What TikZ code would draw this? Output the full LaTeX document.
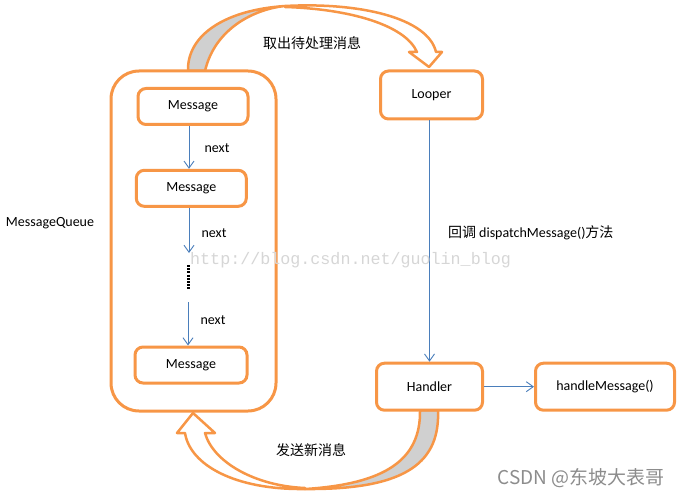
\documentclass[tikz,border=0pt]{standalone}
\usepackage{fontspec}
\setmainfont{Carlito}
\newfontfamily\cjk{Noto Sans CJK SC}
\newfontfamily\wmfont{Liberation Mono}
\usepackage{tikz}
\usetikzlibrary{arrows.meta}
\definecolor{boxorange}{HTML}{F79646}
\definecolor{linkblue}{HTML}{4A7EBB}
\definecolor{backgray}{HTML}{D0D0D0}

\begin{document}
\begin{tikzpicture}[x=1pt,y=-1pt,
  every node/.style={font=\fontsize{14}{16}\selectfont},
  box/.style={draw=boxorange,line width=3pt,rounded corners=8pt,fill=white,
    minimum height=36pt,inner sep=0pt},
  link/.style={draw=linkblue,line width=0.9pt,-{Straight Barb[length=7pt,width=10pt]}},
  curvearrow/.style={draw=boxorange,line width=2.5pt,line join=round}]
\useasboundingbox (0,0) rectangle (682,497);
% curved arrow on top
\filldraw[curvearrow,fill=backgray] (188,71) .. controls (187,35) and (225,10) .. (285,6)
  .. controls (255,9) and (215,28) .. (205,71) -- cycle;
\filldraw[curvearrow,fill=white] (285,6) .. controls (360,2) and (428,18) .. (436,52)
  -- (442,52) -- (429,67) -- (409,52) -- (417,52)
  .. controls (405,25) and (350,9) .. (285,7) -- cycle;
% curved arrow at the bottom
\filldraw[curvearrow,fill=backgray] (438,410) .. controls (440,460) and (410,490) .. (305,489)
  .. controls (385,484) and (421,460) .. (420,410) -- cycle;
\filldraw[curvearrow,fill=white] (305,489) .. controls (235,490) and (190,465) .. (185,433)
  -- (177,433) -- (193,413) -- (215,433) -- (205,433)
  .. controls (213,462) and (255,486) .. (305,488) -- cycle;

\node[box,minimum width=165pt,minimum height=340pt,rounded corners=28pt] (q) at (193.5,241) {};
\node[box,minimum width=110pt] (m1) at (193,106.5) {Message};
\node[box,minimum width=110pt] (m2) at (191.3,188.3) {Message};
\node[box,minimum width=112pt] (m3) at (191,365) {Message};
\node[box,minimum width=102pt,minimum height=48pt] (lp) at (431.5,95) {Looper};
\node[box,minimum width=106pt,minimum height=47pt] (hd) at (429.5,386.7) {Handler};
\node[box,minimum width=139pt,minimum height=47pt] (hm) at (605,386.7) {handleMessage()};

\coordinate (d1) at (189,253);
\coordinate (d2) at (188,302);
\coordinate (dt1) at (188.5,265);
\coordinate (dt2) at (188.5,290);

\draw[link] (m1.south -| d1) -- (m2.north -| d1);
\draw[link] (m2.south -| d1) -- (d1);
\draw[line width=2.5pt,dash pattern=on 2pt off 1.2pt] (dt1) -- (dt2);
\draw[link] (d2) -- (m3.north -| d2);
\draw[link] (lp.south -| hd.north) -- (hd.north);
\draw[link] (hd.east) -- (hm.west);

\node (n1) at (217,148) {next};
\node (n2) at (214,233) {next};
\node (n3) at (213,320) {next};
\node (mq) at (50,223) {MessageQueue};
\node (t1) at (312,43) {\cjk 取出待处理消息};
\node (t2) at (311,450) {\cjk 发送新消息};
\node[anchor=west] (cb) at (444.5,233) {{\cjk 回调} dispatchMessage(){\cjk 方法}};

\node[anchor=west,inner sep=0pt,text=black!16,font=\wmfont\fontsize{16.7}{18}\selectfont] (wm) at (190,260) {http://blog.csdn.net/guolin\_blog};
\node[anchor=east,inner sep=0pt,text=black!45,font=\cjk\fontsize{19}{21}\selectfont] (csdn) at (665,478) {CSDN @东坡大表哥};
\end{tikzpicture}
\end{document}
